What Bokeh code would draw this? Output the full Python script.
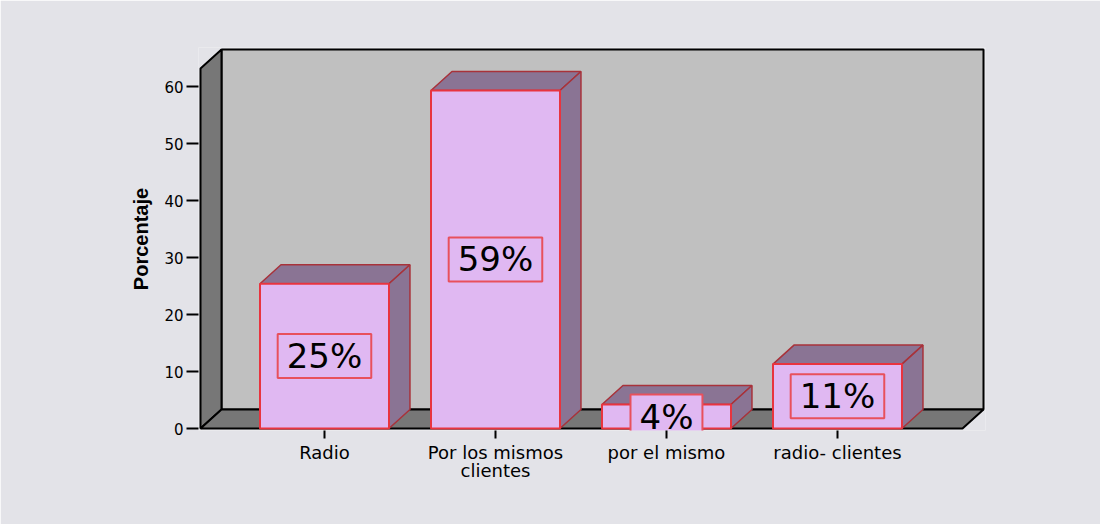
from bokeh.plotting import figure
from bokeh.models import Range1d, FixedTicker, LinearAxis
from bokeh.core.properties import value
from bokeh.embed import file_html
from bokeh.resources import INLINE

# ---- data ----
categories = ["Radio", "Por los mismos\nclientes", "por el mismo", "radio- clientes"]
percentages = [25.4, 59.3, 4.2, 11.3]
bar_labels = ["25%", "59%", "4%", "11%"]
y_ticks = [0, 10, 20, 30, 40, 50, 60]

# ---- style / geometry ----
BG = "#e3e3e8"
BACK_WALL = "#c0c0c0"
SIDE_WALL = "#777777"
FRONT = "#e0b8f2"
SHADE = "#8a7494"
EDGE_FRONT = "#e8343f"
EDGE_SHADE = "#a8323a"
BOX_EDGE = "#e8505c"

PX_X = 171.0   # pixels per category unit
PX_Y = 5.7     # pixels per percent
DX = 21 / PX_X  # depth offset (x units)
DY = 19 / PX_Y  # depth offset (y units)
BW = 129 / PX_X  # bar width
X_FRONT_L = -0.225
X_FRONT_R = X_FRONT_L + 762 / PX_X
WALL_TOP = 379 / PX_Y

W, H = 1100, 524
p = figure(width=W, height=H, output_backend="svg", toolbar_location=None,
           x_range=Range1d(X_FRONT_L - 2 / PX_X, X_FRONT_L + 785 / PX_X),
           y_range=Range1d(-2 / PX_Y, 381 / PX_Y),
           x_axis_type=None, y_axis_type=None,
           min_border_left=198, min_border_right=115,
           min_border_top=47, min_border_bottom=94)
p.background_fill_color = BG
p.border_fill_color = BG
p.outline_line_color = None

# walls
xb_l, xb_r = X_FRONT_L + DX, X_FRONT_R + DX
p.patch([xb_l, xb_l, xb_r, xb_r], [DY, WALL_TOP, WALL_TOP, DY],
        fill_color=BACK_WALL, line_color="black", line_width=2)
p.patch([X_FRONT_L, xb_l, xb_l, X_FRONT_L], [WALL_TOP - DY, WALL_TOP, DY, 0],
        fill_color=SIDE_WALL, line_color="black", line_width=2)
p.patch([X_FRONT_L, xb_l, xb_r, X_FRONT_R], [0, DY, DY, 0],
        fill_color=SIDE_WALL, line_color="black", line_width=2)

# bars
centers = [i + 0.5 for i in range(len(categories))]
xs_top, ys_top, xs_side, ys_side, lefts, rights = [], [], [], [], [], []
for c, v in zip(centers, percentages):
    l, r = c - BW / 2, c + BW / 2
    lefts.append(l)
    rights.append(r)
    xs_top.append([l, l + DX, r + DX, r])
    ys_top.append([v, v + DY, v + DY, v])
    xs_side.append([r, r + DX, r + DX, r])
    ys_side.append([0, DY, v + DY, v])
p.patches(xs_top, ys_top, fill_color=SHADE, line_color=EDGE_SHADE, line_width=1.5)
p.patches(xs_side, ys_side, fill_color=SHADE, line_color=EDGE_SHADE, line_width=1.5)
p.quad(left=lefts, right=rights, bottom=0, top=percentages,
       fill_color=FRONT, line_color=EDGE_FRONT, line_width=2)

# value labels
p.text(x=centers, y=[v / 2 for v in percentages], text=bar_labels,
       text_font=value("DejaVu Sans"), text_font_size="34px", text_color="black",
       text_align="center", text_baseline="middle",
       background_fill_color=FRONT, border_line_color=BOX_EDGE, border_line_width=2,
       padding=dict(x=9, y=2))

# axes
yax = LinearAxis(ticker=FixedTicker(ticks=y_ticks), axis_label="Porcentaje")
yax.axis_line_color = None
yax.major_tick_out = 12
yax.major_tick_in = 0
yax.major_tick_line_width = 2
yax.minor_tick_line_color = None
yax.major_label_standoff = 3
yax.major_label_text_font = "DejaVu Sans"
yax.major_label_text_font_size = "15px"
yax.major_label_text_color = "black"
yax.axis_label_text_font = "Liberation Sans"
yax.axis_label_text_font_style = "bold"
yax.axis_label_text_font_size = "20px"
yax.axis_label_text_color = "black"
yax.axis_label_standoff = 9
p.add_layout(yax, "left")

xax = LinearAxis(ticker=FixedTicker(ticks=centers))
xax.major_label_overrides = {c: lab for c, lab in zip(centers, categories)}
xax.axis_line_color = None
xax.major_tick_out = 8
xax.major_tick_in = 0
xax.major_tick_line_width = 2
xax.minor_tick_line_color = None
xax.major_label_standoff = 3
xax.major_label_text_font = "DejaVu Sans"
xax.major_label_text_font_size = "18px"
xax.major_label_text_line_height = 0.9
xax.major_label_text_color = "black"
p.add_layout(xax, "below")

open("out.html", "w").write(file_html(p, INLINE))
